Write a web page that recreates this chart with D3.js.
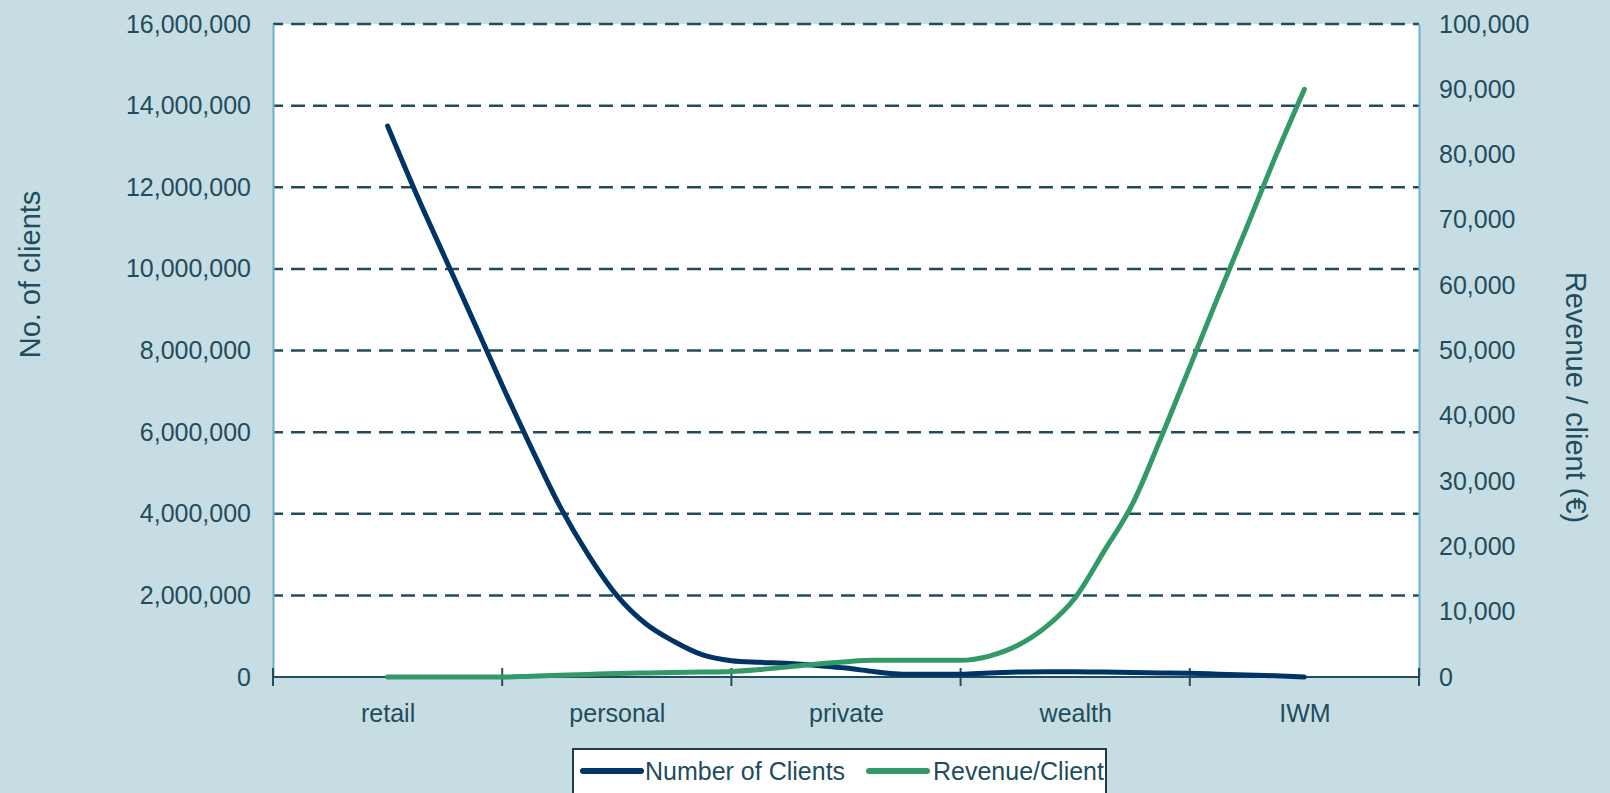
<!DOCTYPE html>
<html>
<head>
<meta charset="utf-8">
<script src="https://cdn.jsdelivr.net/npm/d3@7"></script>
<style>
  html, body { margin: 0; padding: 0; background: #c6dde3; }
  svg { display: block; }
  text { font-family: "Liberation Sans", Arial, sans-serif; fill: #224c5c; }
</style>
</head>
<body>
<svg id="chart" width="1610" height="793"></svg>
<script>
// Client segments shown along the category axis
const categories = ["retail", "personal", "private", "wealth", "IWM"];
// Each segment is sampled at this many steps between labelled points
const stepsPerCategory = 8;

// Number of clients, sampled along the segment axis (retail -> IWM)
const clients = [
  13500000, 11840000, 10280000, 8720000, 7150000, 5640000, 4200000, 3000000,
  2000000, 1310000, 870000, 540000, 400000, 360000, 330000, 280000,
  220000, 130000, 70000, 70000, 70000, 100000, 120000, 130000,
  130000, 120000, 110000, 100000, 90000, 70000, 50000, 30000,
  0
];

// Revenue per client (EUR), same sampling
const revenue = [
  0, 0, 0, 0, 0, 130, 270, 400,
  530, 620, 700, 760, 850, 1150, 1550, 2000,
  2350, 2550, 2550, 2550, 2550, 3200, 4850, 7750,
  12150, 19200, 26500, 36700, 47500, 58400, 69000, 79800,
  90000
];

const clientTicks = [0, 2000000, 4000000, 6000000, 8000000, 10000000, 12000000, 14000000, 16000000];
const revenueTicks = [0, 10000, 20000, 30000, 40000, 50000, 60000, 70000, 80000, 90000, 100000];

const seriesNames = ["Number of Clients", "Revenue/Client"];
const colors = { clients: "#003366", revenue: "#339966", ink: "#224c5c", frame: "#6eb0d3" };

const svg = d3.select("#chart");
const plot = { left: 273, right: 1419, top: 24, bottom: 677 };

const nCat = categories.length;
const x = d3.scaleLinear()
  .domain([-stepsPerCategory / 2, (nCat - 1) * stepsPerCategory + stepsPerCategory / 2])
  .range([plot.left, plot.right]);
const yLeft = d3.scaleLinear().domain([0, 16000000]).range([plot.bottom, plot.top]);
const yRight = d3.scaleLinear().domain([0, 100000]).range([plot.bottom, plot.top]);

// plot area
svg.append("rect")
  .attr("x", plot.left).attr("y", plot.top)
  .attr("width", plot.right - plot.left).attr("height", plot.bottom - plot.top)
  .attr("fill", "#ffffff");

// dashed horizontal gridlines from the client axis
svg.append("g")
  .selectAll("line")
  .data(clientTicks.filter(d => d > 0))
  .join("line")
  .attr("x1", plot.left).attr("x2", plot.right)
  .attr("y1", d => yLeft(d)).attr("y2", d => yLeft(d))
  .attr("stroke", colors.ink)
  .attr("stroke-width", 2.5)
  .attr("stroke-dasharray", "14,8")
  .attr("stroke-dashoffset", 4);

// left axis (clients)
const leftAxis = svg.append("g")
  .attr("transform", `translate(${plot.left},0)`)
  .call(d3.axisLeft(yLeft).tickValues(clientTicks).tickFormat(d3.format(",")).tickSize(0).tickPadding(22));
leftAxis.select(".domain").attr("stroke", colors.frame).attr("stroke-width", 2);
leftAxis.selectAll("text").attr("font-size", 25).attr("fill", colors.ink)
  .style("font-family", "'Liberation Sans', Arial, sans-serif");

// right axis (revenue per client)
const rightAxis = svg.append("g")
  .attr("transform", `translate(${plot.right},0)`)
  .call(d3.axisRight(yRight).tickValues(revenueTicks).tickFormat(d3.format(",")).tickSize(0).tickPadding(20));
rightAxis.select(".domain").attr("stroke", colors.frame).attr("stroke-width", 2);
rightAxis.selectAll("text").attr("font-size", 25).attr("fill", colors.ink)
  .style("font-family", "'Liberation Sans', Arial, sans-serif");

// bottom axis: line with boundary ticks crossing it, labels at segment centres
const boundaries = d3.range(nCat + 1).map(i => (i - 0.5) * stepsPerCategory);
const centers = d3.range(nCat).map(i => i * stepsPerCategory);

const bottomLabels = svg.append("g")
  .attr("transform", `translate(0,${plot.bottom})`)
  .call(d3.axisBottom(x).tickValues(centers).tickFormat(d => categories[d / stepsPerCategory]).tickSize(0).tickPadding(27));
bottomLabels.select(".domain").remove();
bottomLabels.selectAll("text").attr("font-size", 25).attr("fill", colors.ink)
  .style("font-family", "'Liberation Sans', Arial, sans-serif");

const bottomTicks = svg.append("g").attr("transform", `translate(0,${plot.bottom})`);
bottomTicks.append("line")
  .attr("x1", x(boundaries[0])).attr("x2", x(boundaries[boundaries.length - 1]))
  .attr("stroke", colors.ink).attr("stroke-width", 2);
bottomTicks.selectAll("line.tick")
  .data(boundaries)
  .join("line")
  .attr("class", "tick")
  .attr("x1", d => x(d)).attr("x2", d => x(d))
  .attr("y1", -9).attr("y2", 9)
  .attr("stroke", colors.ink).attr("stroke-width", 2);

// series lines (smoothed)
const lineClients = d3.line().curve(d3.curveMonotoneX).x((d, i) => x(i)).y(d => yLeft(d));
const lineRevenue = d3.line().curve(d3.curveMonotoneX).x((d, i) => x(i)).y(d => yRight(d));

svg.append("path")
  .datum(clients)
  .attr("d", lineClients)
  .attr("fill", "none")
  .attr("stroke", colors.clients)
  .attr("stroke-width", 5)
  .attr("stroke-linecap", "round")
  .attr("stroke-linejoin", "round");

svg.append("path")
  .datum(revenue)
  .attr("d", lineRevenue)
  .attr("fill", "none")
  .attr("stroke", colors.revenue)
  .attr("stroke-width", 5)
  .attr("stroke-linecap", "round")
  .attr("stroke-linejoin", "round");

// axis titles
svg.append("text")
  .attr("transform", `translate(30,${(plot.top + plot.bottom) / 2 - 76}) rotate(-90)`)
  .attr("text-anchor", "middle")
  .attr("dominant-baseline", "central")
  .attr("font-size", 29)
  .text("No. of clients");

svg.append("text")
  .attr("transform", `translate(1576,${(plot.top + plot.bottom) / 2 + 47}) rotate(90)`)
  .attr("text-anchor", "middle")
  .attr("dominant-baseline", "central")
  .attr("font-size", 29)
  .text("Revenue / client (\u20AC)");

// legend
const legend = svg.append("g").attr("transform", "translate(573,749)");
legend.append("rect")
  .attr("x", 0).attr("y", 0)
  .attr("width", 533).attr("height", 60)
  .attr("fill", "#ffffff")
  .attr("stroke", "#1d3d4c")
  .attr("stroke-width", 2);

const legendItems = [
  { name: seriesNames[0], color: colors.clients, x0: 10, tx: 72 },
  { name: seriesNames[1], color: colors.revenue, x0: 296, tx: 360 }
];
const li = legend.selectAll("g.item").data(legendItems).join("g").attr("class", "item");
li.append("line")
  .attr("x1", d => d.x0).attr("x2", d => d.x0 + 58)
  .attr("y1", 22).attr("y2", 22)
  .attr("stroke", d => d.color)
  .attr("stroke-width", 6)
  .attr("stroke-linecap", "round");
li.append("text")
  .attr("x", d => d.tx).attr("y", 22)
  .attr("dominant-baseline", "central")
  .attr("font-size", 25)
  .text(d => d.name);
</script>
</body>
</html>
